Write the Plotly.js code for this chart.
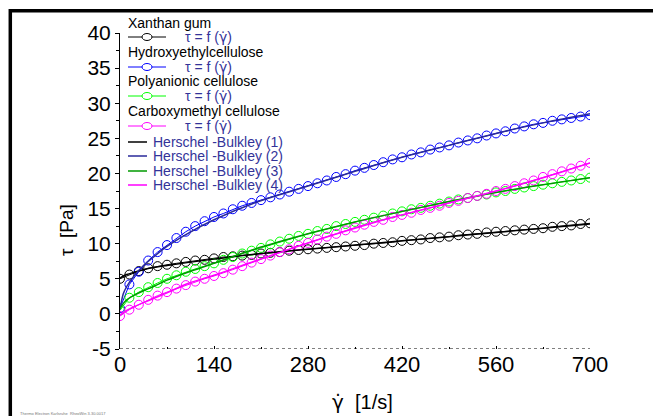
<!DOCTYPE html>
<html>
<head>
<meta charset="utf-8">
<script src="https://cdn.plot.ly/plotly-3.0.1.min.js"></script>
<style>
html,body{margin:0;padding:0;background:#fff;}
#chart{width:653px;height:416px;}
</style>
</head>
<body>
<div id="chart"></div>
<script>
// ---- data ----
var shearRate = [0,14,28,42,56,70,84,98,112,126,140,154,168,182,196,210,224,238,252,266,280,294,308,322,336,350,364,378,392,406,420,434,448,462,476,490,504,518,532,546,560,574,588,602,616,630,644,658,672,686,700];

var xanthanGum = [5.0,5.6,6.1,6.5,6.8,7.0,7.2,7.4,7.6,7.7,7.9,8.1,8.2,8.3,8.4,8.6,8.7,8.8,9.0,9.1,9.2,9.3,9.4,9.5,9.6,9.7,9.8,10.0,10.1,10.2,10.4,10.5,10.6,10.8,10.9,11.0,11.2,11.3,11.4,11.6,11.7,11.8,11.9,12.0,12.1,12.2,12.4,12.5,12.6,12.8,12.9];

var hydroxyethylcellulose = [0.8,4.2,6.0,7.6,8.8,9.8,10.8,11.7,12.5,13.2,13.8,14.3,14.9,15.4,15.8,16.2,16.6,17.0,17.4,17.8,18.2,18.6,19.0,19.5,19.9,20.4,20.8,21.2,21.6,22.0,22.3,22.7,23.0,23.4,23.7,24.0,24.4,24.7,25.0,25.4,25.7,26.0,26.4,26.7,27.0,27.2,27.5,27.7,27.9,28.1,28.3];

var polyanionicCellulose = [0.5,2.3,3.1,3.8,4.4,5.0,5.5,6.0,6.4,6.8,7.2,7.7,8.1,8.6,9.0,9.4,9.9,10.3,10.7,11.1,11.4,11.8,12.1,12.5,12.8,13.1,13.4,13.7,14.0,14.3,14.6,14.9,15.1,15.4,15.7,16.0,16.3,16.5,16.8,17.0,17.3,17.5,17.8,18.0,18.2,18.4,18.6,18.8,19.0,19.2,19.4];

var carboxymethylCellulose = [-0.3,0.6,1.3,2.0,2.6,3.1,3.6,4.1,4.6,5.0,5.4,5.8,6.3,6.8,7.3,7.8,8.3,8.8,9.2,9.7,10.1,10.6,11.0,11.4,11.9,12.3,12.7,13.1,13.4,13.8,14.1,14.4,14.8,15.1,15.4,15.8,16.1,16.5,16.8,17.1,17.5,17.8,18.2,18.6,19.0,19.5,19.9,20.3,20.7,21.1,21.5];

// Herschel-Bulkley fitted curves
var fitShearRate = [0,5,10,20,35,50,70,100,140,200,280,350,420,490,560,630,700];
var hb1 = [5.1,5.4,5.6,5.9,6.3,6.6,6.9,7.3,7.8,8.5,9.2,9.8,10.4,11.0,11.6,12.2,12.8];
var hb2 = [0.6,2.9,3.9,5.3,6.9,8.1,9.6,11.4,13.4,15.8,18.2,20.3,22.3,24.0,25.7,27.2,28.5];
var hb3 = [0.7,1.5,2.0,2.6,3.3,3.9,4.8,5.9,7.2,9.2,11.4,13.1,14.6,16.0,17.3,18.4,19.4];
var hb4 = [-0.2,0.2,0.5,1.0,1.6,2.2,3.0,4.3,5.5,7.5,10.1,12.2,14.1,15.8,17.5,19.4,21.5];

var sampleNames = ["Xanthan gum","Hydroxyethylcellulose","Polyanionic cellulose","Carboxymethyl cellulose"];
var gammaDot = "<span style=\"font-family:'DejaVu Sans'\">γ̇</span>";
var measuredLabel = "τ = f (" + gammaDot + ")";
var fitNames = ["Herschel -Bulkley (1)","Herschel -Bulkley (2)","Herschel -Bulkley (3)","Herschel -Bulkley (4)"];
var xTicks = [0,140,280,420,560,700];
var yTicks = [-5,0,5,10,15,20,25,30,35,40];

// ---- styling ----
var measuredColors = ["#000000","#0000ff","#00ff00","#ff00ff"];
var fitColors = ["#000000","#2a2a9a","#009a00","#ff00ff"];
var legendTextColor = "#333399";
var FONT = "Liberation Sans, Arial, sans-serif";

var measured = [xanthanGum, hydroxyethylcellulose, polyanionicCellulose, carboxymethylCellulose];
var fits = [hb1, hb2, hb3, hb4];

var traces = [];
measured.forEach(function(ys, i){
  traces.push({
    x: shearRate, y: ys, type: "scatter", mode: "lines+markers",
    name: sampleNames[i] + " τ = f (γ̇)",
    line: {color: measuredColors[i], width: 1},
    marker: {symbol: "circle-open", size: 9, color: measuredColors[i], line: {width: 1, color: measuredColors[i]}},
    showlegend: false
  });
});
fits.forEach(function(ys, i){
  traces.push({
    x: fitShearRate, y: ys, type: "scatter", mode: "lines",
    name: fitNames[i], line: {color: fitColors[i], width: 1.5, shape: "spline"},
    showlegend: false
  });
});

// plot area in pixels: x 120..590, y 33..349
function PX(px){ return (px - 120) / 470; }
function PY(py){ return (349 - py) / 316; }

var annotations = [];
var shapes = [];

// custom legend
var rowY = [23, 37, 52, 67, 81, 96, 111, 126, 142, 156, 171, 185];
var LF = 14;
sampleNames.forEach(function(nm, i){
  var yT = rowY[2*i], yL = rowY[2*i+1];
  annotations.push({xref:"paper", yref:"paper", x:PX(126), y:PY(yT), xanchor:"left", yanchor:"middle",
    text: nm, showarrow:false, font:{family:FONT, size:LF, color:"#000"}});
  shapes.push({type:"line", xref:"paper", yref:"paper", x0:PX(128), x1:PX(166), y0:PY(yL), y1:PY(yL),
    line:{color:measuredColors[i], width:1}});
  shapes.push({type:"circle", xref:"paper", yref:"paper", x0:PX(142), x1:PX(152), y0:PY(yL-3.5), y1:PY(yL+3.5),
    line:{color:measuredColors[i], width:1}, fillcolor:"#ffffff"});
  annotations.push({xref:"paper", yref:"paper", x:PX(183), y:PY(yL), xanchor:"left", yanchor:"middle",
    text: measuredLabel, showarrow:false, font:{family:FONT, size:LF, color:legendTextColor}});
});
fitNames.forEach(function(nm, i){
  var y = rowY[8+i];
  shapes.push({type:"line", xref:"paper", yref:"paper", x0:PX(128), x1:PX(147), y0:PY(y), y1:PY(y),
    line:{color:fitColors[i], width:1.5}});
  annotations.push({xref:"paper", yref:"paper", x:PX(151), y:PY(y), xanchor:"left", yanchor:"middle",
    text: nm, showarrow:false, font:{family:FONT, size:LF, color:legendTextColor}});
});

// axis titles
annotations.push({xref:"paper", yref:"paper", x:PX(66), y:PY(230), textangle:-90, xanchor:"center", yanchor:"middle",
  text:"τ  [Pa]", showarrow:false, font:{family:FONT, size:19, color:"#000"}});
annotations.push({xref:"paper", yref:"paper", x:PX(362), y:PY(402), xanchor:"center", yanchor:"middle",
  text: gammaDot + "  [1/s]", showarrow:false, font:{family:FONT, size:20, color:"#000"}});
// tiny software footer
annotations.push({xref:"paper", yref:"paper", x:PX(18), y:PY(413), xanchor:"left", yanchor:"middle",
  text:"Thermo Electron Karlsruhe  RheoWin 3.30.0017", showarrow:false, font:{family:FONT, size:4, color:"#777"}});

// dotted x axis line at y=-5
shapes.push({type:"line", xref:"x", yref:"y", x0:0, x1:700, y0:-5, y1:-5, line:{color:"#000", width:1, dash:"3px,3px"}, layer:"below"});
// outer frame (thick black lines top and left)
shapes.push({type:"line", xref:"paper", yref:"paper", x0:PX(10.3), x1:PX(660), y0:PY(10.7), y1:PY(10.7), line:{color:"#000", width:3.5}});
shapes.push({type:"line", xref:"paper", yref:"paper", x0:PX(10.3), x1:PX(10.3), y0:PY(9), y1:PY(420), line:{color:"#000", width:3.5}});

var layout = {
  width: 653, height: 416,
  margin: {l:120, r:63, t:33, b:67, pad:0},
  paper_bgcolor: "#fff", plot_bgcolor: "#fff",
  showlegend: false,
  font: {family: FONT, color: "#000"},
  xaxis: {
    range: [0, 700], tickvals: xTicks, ticktext: xTicks.map(String),
    ticks: "inside", ticklen: 3, tickcolor: "#000",
    minor: {dtick: 70, ticks: "inside", ticklen: 2, tickcolor: "#000"},
    showline: false, showgrid: false, zeroline: false,
    tickfont: {family: FONT, size: 22, color: "#000"}
  },
  yaxis: {
    range: [-5, 40], tickvals: yTicks, ticktext: yTicks.map(String),
    ticks: "outside", ticklen: 4, tickcolor: "#000",
    minor: {dtick: 2.5, ticks: "outside", ticklen: 3, tickcolor: "#000"},
    showline: true, linecolor: "#000", linewidth: 1,
    showgrid: false, zeroline: false,
    tickfont: {family: FONT, size: 21, color: "#000"}
  },
  annotations: annotations,
  shapes: shapes
};

Plotly.newPlot("chart", traces, layout, {displayModeBar: false, staticPlot: true});
</script>
</body>
</html>
